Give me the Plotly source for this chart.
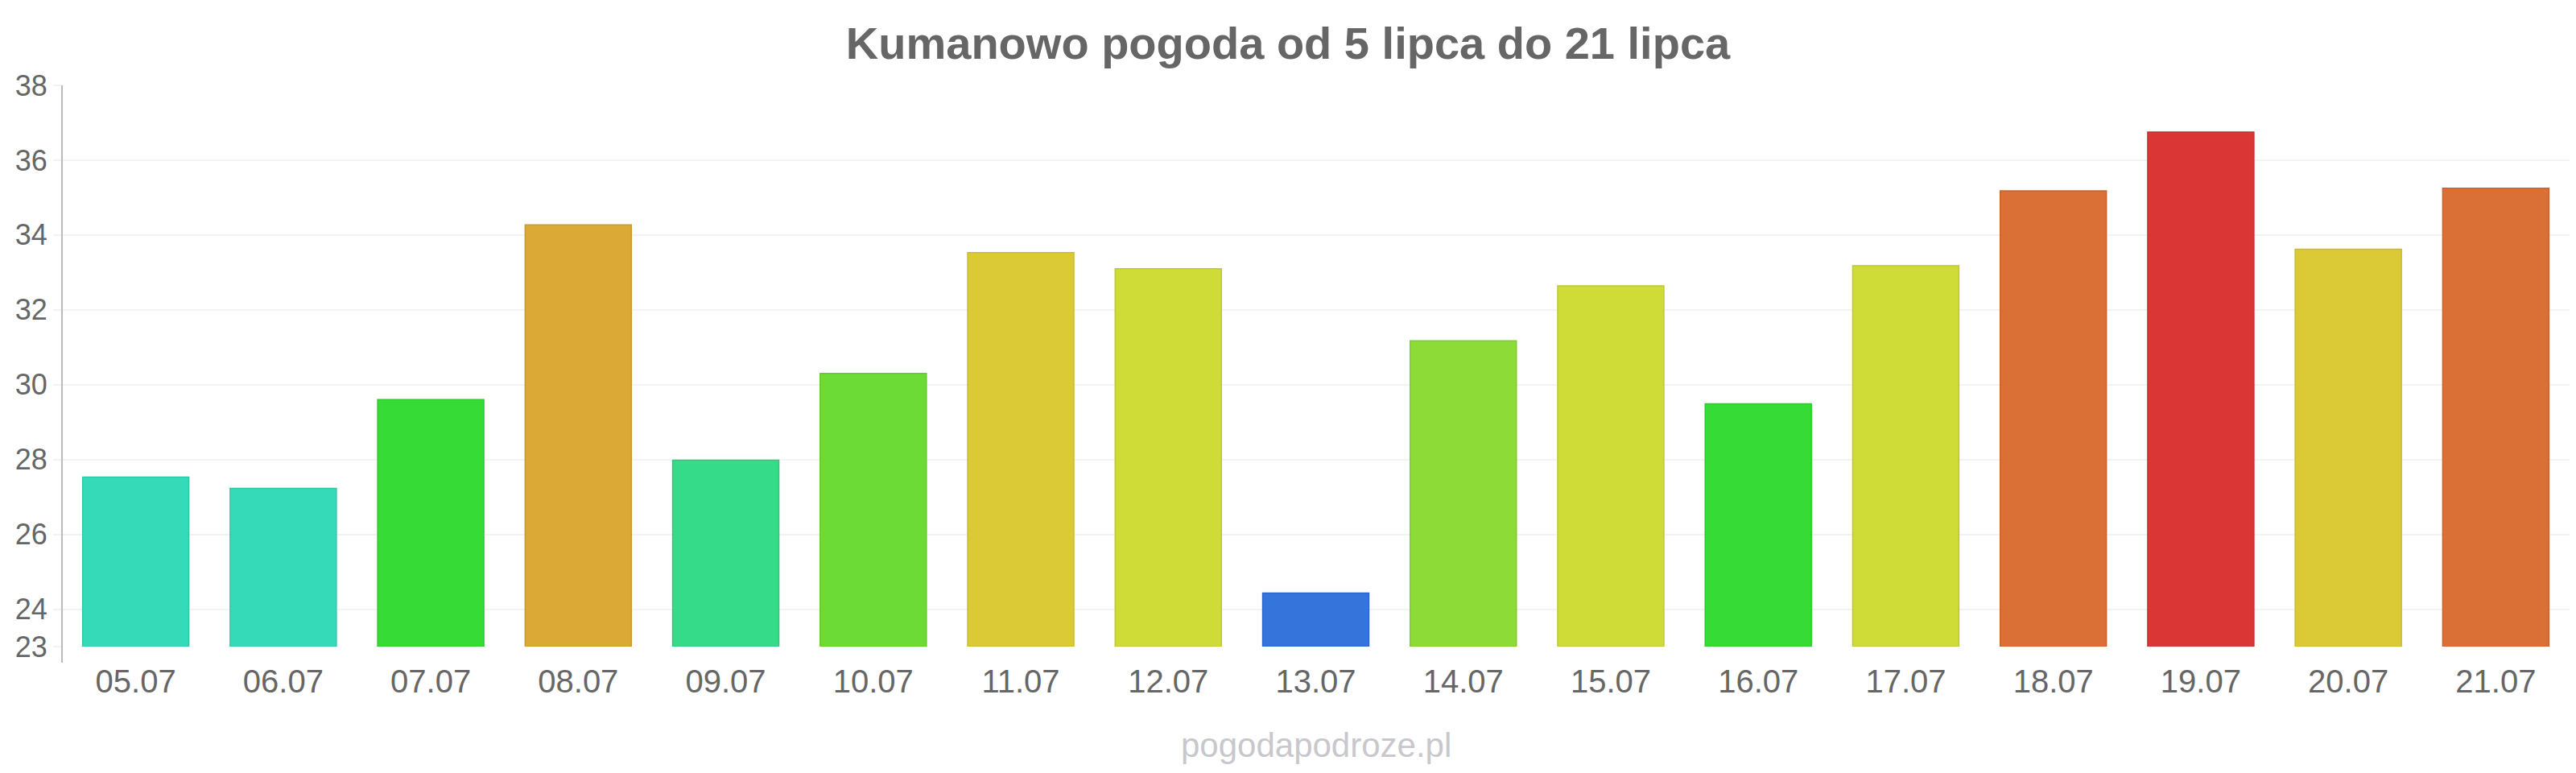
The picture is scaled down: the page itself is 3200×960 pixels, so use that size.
import plotly.graph_objects as go

days = ["05.07", "06.07", "07.07", "08.07", "09.07", "10.07", "11.07", "12.07", "13.07",
        "14.07", "15.07", "16.07", "17.07", "18.07", "19.07", "20.07", "21.07"]
temps = [27.53, 27.23, 29.6, 34.27, 27.98, 30.3, 33.53, 33.1, 24.43,
         31.17, 32.64, 29.49, 33.18, 35.18, 36.75, 33.62, 35.25]
fill_colors = ["#35dbb9", "#35dbb9", "#36db36", "#dba936", "#36db8a", "#6ddb36", "#dbca36", "#cfdb36", "#3574db",
               "#8cdb36", "#cfdb36", "#36db36", "#cfdb36", "#db7036", "#db3636", "#dbca36", "#db7036"]
line_colors = ["#2cc9a8", "#2cc9a8", "#2ec92e", "#c99a2e", "#2ec97c", "#62c92e", "#c9b92e", "#bec92e", "#2d66c9",
               "#7fc92e", "#bec92e", "#2ec92e", "#bec92e", "#c9632e", "#c92e2e", "#c9b92e", "#c9632e"]
y_ticks = [23, 24, 26, 28, 30, 32, 34, 36, 38]

title_text = "Kumanowo pogoda od 5 lipca do 21 lipca"
watermark = "pogodapodroze.pl"

fig = go.Figure()
fig.add_trace(go.Bar(
    x=days, y=[t - 23 for t in temps], base=23,
    marker=dict(color=fill_colors, line=dict(color=line_colors, width=1.5)),
    hovertext=[f"{t}" for t in temps], hoverinfo="x+text",
))

fig.update_layout(
    width=3200, height=960,
    margin=dict(l=77, r=8, t=106, b=157),
    paper_bgcolor="white", plot_bgcolor="white",
    bargap=0.28,
    showlegend=False,
    font=dict(family="Liberation Sans, Arial, sans-serif", color="#666666"),
    title=dict(text=f"<b>{title_text}</b>", x=0.5, xanchor="center", y=1 - 73 / 960, yanchor="bottom",
               yref="container", font=dict(size=56, color="#666666")),
    xaxis=dict(
        showgrid=False, showline=False, zeroline=False,
        ticks="outside", ticklen=8, tickcolor="rgba(0,0,0,0)",
        tickfont=dict(size=40, color="#666666"),
    ),
    yaxis=dict(
        range=[23, 38], tickvals=y_ticks, ticktext=[str(v) for v in y_ticks],
        showgrid=True, gridcolor="#f3f3f3", gridwidth=2, zeroline=False,
        showline=False,
        ticks="outside", ticklen=10, tickcolor="#f3f3f3", tickwidth=2,
        tickfont=dict(size=36, color="#666666"),
    ),
    shapes=[dict(type="line", xref="paper", yref="paper", x0=0, x1=0, y0=-20 / 697, y1=1,
                 line=dict(color="#bbbbbb", width=2))],
    annotations=[dict(text=watermark, xref="paper", yref="paper", x=0.5, xanchor="center",
                      y=-(925 - 803) / 697, yanchor="middle", showarrow=False,
                      font=dict(size=42, color="#c8c8cc"))],
)

fig.write_html("out.html")
